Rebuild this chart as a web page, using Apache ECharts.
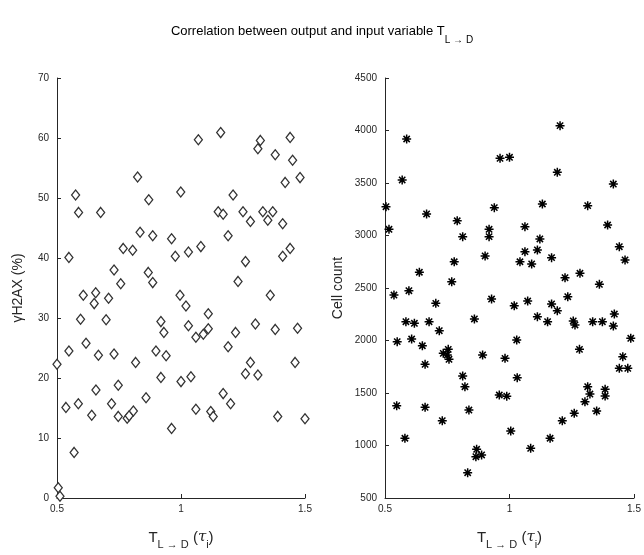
<!DOCTYPE html>
<html><head><meta charset="utf-8">
<script src="https://cdn.jsdelivr.net/npm/echarts@6/dist/echarts.min.js"></script>
<style>html,body{margin:0;padding:0;background:#fff}#c{width:644px;height:555px}</style>
</head><body><div id="c"></div>
<script>
// Left panel: gammaH2AX (%) vs T_{L->D}
const leftX = [0.575,0.587,0.676,0.825,0.87,0.999,1.07,1.16,1.32,1.31,1.44,1.38,1.45,1.48,1.42,1.21,1.15,1.17,1.25,1.33,1.37,1.35,1.28,1.41,1.19,1.03,1.08,1.26,1.41,1.44,1.23,1.36,0.996,1.02,1.11,1.03,1.11,1.09,1.06,1.22,1.30,1.38,1.47,1.19,1.28,1.46,1.26,1.31,1.0,1.04,1.17,1.20,1.06,1.12,1.13,1.39,1.50,0.835,0.886,0.962,0.977,0.767,0.805,0.548,0.73,0.868,0.886,0.757,0.606,0.656,0.65,0.708,0.595,0.698,0.919,0.931,0.548,0.617,0.667,0.73,0.899,0.94,0.5,0.817,0.919,0.657,0.747,0.536,0.586,0.64,0.72,0.747,0.783,0.791,0.808,0.859,0.962,0.569,0.505,0.512];
const leftY = [50.5,47.6,47.6,53.5,49.7,51,59.7,60.9,59.6,58.2,60.1,57.2,56.3,53.4,52.6,50.5,47.7,47.3,47.7,47.7,47.7,46.3,46.1,45.7,43.7,41,41.9,39.4,40.3,41.6,36.1,33.8,33.8,32,30.7,28.7,28.2,27.3,26.8,27.6,29,28.1,28.3,25.2,22.6,22.6,20.7,20.5,19.4,20.2,17.4,15.7,14.8,14.4,13.6,13.6,13.2,44.3,43.7,43.2,40.3,41.6,41.3,40.1,38,37.6,35.9,35.7,33.8,34.2,32.4,33.3,29.8,29.7,29.4,27.6,24.5,25.8,23.8,24,24.5,23.7,22.3,22.6,20.1,18,18.8,15.1,15.7,13.8,15.7,13.6,13.3,13.7,14.5,16.7,11.6,7.6,1.7,0.3];
// Right panel: Cell count vs T_{L->D}
const rightX = [0.587,0.569,0.504,0.667,0.79,0.939,0.962,1.0,1.203,1.192,1.417,1.132,1.314,1.504,0.516,0.812,0.918,0.918,0.497,0.778,0.902,0.638,0.768,0.536,0.596,0.704,0.928,0.584,0.618,0.677,0.859,0.718,0.549,0.607,0.65,0.754,0.734,0.75,0.892,0.982,1.062,1.394,1.122,1.062,1.112,1.441,1.042,1.089,1.169,1.464,1.223,1.283,1.361,1.234,1.019,1.073,1.169,1.192,1.112,1.153,1.256,1.263,1.334,1.373,1.421,1.417,1.029,1.487,1.281,1.455,0.757,0.661,0.812,0.821,0.547,0.661,0.73,0.837,0.959,0.989,0.58,0.868,0.865,0.888,0.832,1.441,1.475,1.031,1.314,1.323,1.303,1.384,1.384,1.35,1.26,1.212,1.005,1.163,1.085];
const rightY = [3919,3529,3274,3205,3140,3265,3735,3745,4046,3602,3490,3300,3284,3221,3059,2989,3059,2989,2750,2750,2805,2650,2560,2433,2474,2354,2395,2179,2164,2179,2205,2093,1989,2014,1950,1916,1878,1862,1862,1830,3084,3100,2967,2846,2862,2893,2750,2729,2789,2767,2598,2640,2535,2417,2331,2376,2348,2284,2227,2179,2186,2148,2179,2179,2252,2138,2005,2021,1916,1846,1821,1773,1662,1560,1379,1364,1236,1338,1481,1470,1069,964,893,910,741,1735,1735,1646,1560,1490,1417,1535,1471,1329,1307,1236,1138,1069,973];
const xTicks = [0.5, 1, 1.5];

const zip = (a, b) => a.map((v, i) => [v, b[i]]);
const chart = echarts.init(document.getElementById('c'), null, {renderer: 'canvas'});
const font = 'Liberation Sans, Arial, Helvetica, sans-serif';
const axCol = '#262626';
function xAxisOpt(gi) {
  return {
    gridIndex: gi, type: 'value', min: 0.5, max: 1.5, interval: 0.5,
    axisLine: {show: true, onZero: false, lineStyle: {color: axCol, width: 1}},
    axisTick: {show: true, inside: true, length: 4, lineStyle: {color: axCol}},
    axisLabel: {color: axCol, fontSize: 10, fontFamily: font, margin: 6,
      formatter: v => xTicks.includes(v) ? String(v) : ''},
    splitLine: {show: false},
    name: '{t|T}{s|L → D}{t| (}{g|τ}{s|i}{t|)}',
    nameLocation: 'middle', nameGap: 32,
    nameTextStyle: {rich: {
      t: {fontSize: 15, fontFamily: font, color: axCol, verticalAlign: 'top', lineHeight: 20},
      g: {fontSize: 15, fontFamily: 'DejaVu Serif', fontStyle: 'italic', color: axCol, verticalAlign: 'top', lineHeight: 20},
      s: {fontSize: 11, fontFamily: font, color: axCol, verticalAlign: 'bottom', lineHeight: 20, padding: [10, 0, 0, 0]}
    }}
  };
}
function yAxisOpt(gi, min, max, interval, name, gap) {
  return {
    gridIndex: gi, type: 'value', min: min, max: max, interval: interval,
    axisLine: {show: true, onZero: false, lineStyle: {color: axCol, width: 1}},
    axisTick: {show: true, inside: true, length: 4, lineStyle: {color: axCol}},
    axisLabel: {color: axCol, fontSize: 10, fontFamily: font, margin: 8, formatter: v => String(v)},
    splitLine: {show: false},
    name: name, nameLocation: 'middle', nameGap: gap, nameRotate: 90,
    nameTextStyle: {fontSize: 14, fontFamily: font, color: axCol}
  };
}
chart.setOption({
  animation: false,
  backgroundColor: '#fff',
  title: {
    text: '{a|Correlation between output and input variable T}{s|L → D}',
    left: 'center', top: 20,
    textStyle: {fontWeight: 'normal', rich: {
      a: {fontSize: 13, fontFamily: font, fontWeight: 'normal', color: '#000', verticalAlign: 'top', lineHeight: 20},
      s: {fontSize: 10, fontFamily: font, fontWeight: 'normal', color: '#000', verticalAlign: 'bottom', lineHeight: 20, padding: [10, 0, 0, 0]}
    }}
  },
  grid: [
    {left: 57, right: 339, top: 78, bottom: 57},
    {left: 385, right: 10, top: 78, bottom: 57}
  ],
  xAxis: [xAxisOpt(0), xAxisOpt(1)],
  yAxis: [
    yAxisOpt(0, 0, 70, 10, 'γH2AX (%)', 32),
    yAxisOpt(1, 500, 4500, 500, 'Cell count', 40)
  ],
  series: [
    {type: 'scatter', xAxisIndex: 0, yAxisIndex: 0, data: zip(leftX, leftY),
      symbol: 'diamond', symbolSize: [8, 10],
      itemStyle: {color: '#fff', borderColor: '#333', borderWidth: 1.3, opacity: 1}},
    {type: 'scatter', xAxisIndex: 1, yAxisIndex: 1, data: zip(rightX, rightY),
      symbol: 'path://M0,5L10,5M5,0L5,10M1.5,1.5L8.5,8.5M8.5,1.5L1.5,8.5', symbolSize: 9,
      itemStyle: {color: 'none', borderColor: '#000', borderWidth: 1.5, opacity: 1}}
  ]
});
</script></body></html>
